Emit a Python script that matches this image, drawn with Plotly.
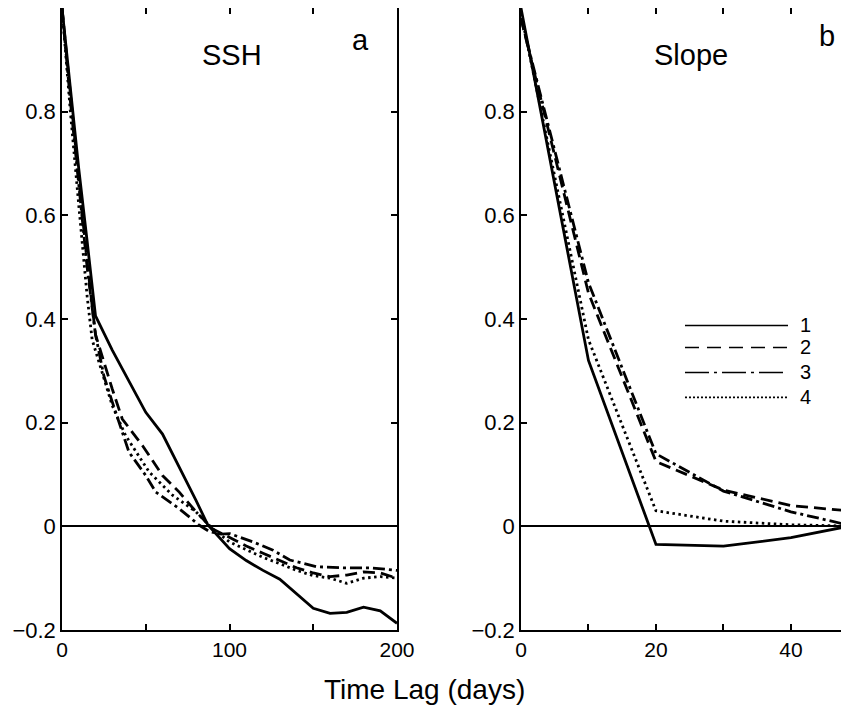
import plotly.graph_objects as go

# ---------------- data ----------------
series_names = ["1", "2", "3", "4"]

# Panel a: SSH autocorrelation vs time lag (days)
ssh_lag_1 = [0, 5, 10, 15, 20, 30, 40, 50, 60, 70, 80, 87, 100, 110, 120, 130, 140, 150, 160, 170, 180, 190, 200]
ssh_1 = [1.0, 0.84, 0.69, 0.55, 0.406, 0.34, 0.279, 0.22, 0.178, 0.115, 0.05, 0.003, -0.043, -0.066, -0.085, -0.102, -0.13, -0.158, -0.168, -0.166, -0.156, -0.163, -0.187]

ssh_lag_2 = [0, 5, 10, 15, 20, 30, 36, 48, 60, 70, 80, 90, 100, 110, 120, 130, 140, 150, 160, 170, 180, 190, 200]
ssh_2 = [1.0, 0.83, 0.67, 0.51, 0.37, 0.265, 0.207, 0.156, 0.098, 0.066, 0.028, -0.005, -0.022, -0.038, -0.052, -0.066, -0.08, -0.09, -0.097, -0.094, -0.088, -0.09, -0.1]

ssh_lag_3 = [0, 5, 10, 15, 20, 25, 30, 40, 50, 56, 70, 82, 88, 95, 100, 114, 126, 136, 152, 168, 184, 200]
ssh_3 = [1.0, 0.82, 0.66, 0.5, 0.37, 0.29, 0.24, 0.143, 0.098, 0.066, 0.034, 0.002, -0.01, -0.015, -0.014, -0.03, -0.046, -0.065, -0.078, -0.08, -0.08, -0.085]

ssh_lag_4 = [0, 5, 10, 15, 18, 24, 30, 38, 52, 66, 80, 90, 100, 110, 120, 130, 140, 150, 160, 170, 180, 190, 200]
ssh_4 = [1.0, 0.8, 0.62, 0.444, 0.36, 0.297, 0.233, 0.175, 0.105, 0.06, 0.028, -0.005, -0.03, -0.045, -0.06, -0.072, -0.085, -0.095, -0.1, -0.11, -0.1, -0.097, -0.1]

# Panel b: Slope autocorrelation vs time lag (days)
slope_lag = [0, 10, 20, 30, 40, 50]
slope_1 = [1.0, 0.32, -0.035, -0.038, -0.022, 0.004]
slope_2 = [0.98, 0.45, 0.125, 0.07, 0.04, 0.028]
slope_3 = [0.98, 0.47, 0.14, 0.068, 0.028, -0.002]
slope_4 = [0.99, 0.36, 0.03, 0.01, 0.003, 0.0]

y_ticks = [-0.2, 0, 0.2, 0.4, 0.6, 0.8]
y_tick_text = ["\u22120.2", "0", "0.2", "0.4", "0.6", "0.8"]
xa_ticks = [0, 100, 200]
xa_minor = [50, 150]
xb_ticks = [0, 20, 40]
xb_minor = [10, 30]

# ---------------- styles ----------------
FONT = "Liberation Sans, Arial, Helvetica, sans-serif"
LW = 2.8
dashes = ["solid", "12px,6px", "12px,4px,3px,4px", "2.5px,3.5px"]
leg_dashes = ["solid", "14px,8px", "24px,5px,3px,5px", "2px,2px"]

fig = go.Figure()

ssh_x = [ssh_lag_1, ssh_lag_2, ssh_lag_3, ssh_lag_4]
ssh_y = [ssh_1, ssh_2, ssh_3, ssh_4]
slope_y = [slope_1, slope_2, slope_3, slope_4]

for i in range(4):
    fig.add_trace(go.Scatter(x=ssh_x[i], y=ssh_y[i], mode="lines", name=series_names[i],
                             line=dict(color="black", width=LW, dash=dashes[i]),
                             xaxis="x", yaxis="y", showlegend=False))
for i in range(4):
    fig.add_trace(go.Scatter(x=slope_lag, y=slope_y[i], mode="lines", name=series_names[i],
                             line=dict(color="black", width=LW, dash=dashes[i]),
                             xaxis="x2", yaxis="y2", showlegend=False))

def axis_common(size):
    return dict(showline=True, linecolor="black", linewidth=1.5, ticks="inside",
                ticklen=6, tickwidth=1.5, tickcolor="black", showgrid=False,
                automargin=False,
                tickfont=dict(family=FONT, size=size, color="black"))

# the page adds an 8px body margin, so the figure is 8px smaller than the window
fig.update_layout(
    width=841, height=705,
    margin=dict(l=54, r=0, t=0, b=83, autoexpand=False),
    paper_bgcolor="white", plot_bgcolor="white",
    showlegend=False,
    xaxis=dict(domain=[0, 0.4257], range=[0, 200], tickvals=xa_ticks, mirror="ticks",
               zeroline=False,
               minor=dict(tickvals=xa_minor, ticks="inside", ticklen=6, tickwidth=1.5, tickcolor="black"),
               **axis_common(21)),
    yaxis=dict(domain=[0, 1], range=[-0.2, 1.0], tickvals=y_ticks, ticktext=y_tick_text,
               mirror="ticks", zeroline=True, zerolinecolor="black", zerolinewidth=1.5,
               anchor="x", **axis_common(22)),
    xaxis2=dict(domain=[0.5832, 1], range=[0, 48.6], tickvals=xb_ticks, mirror="ticks",
                zeroline=False, anchor="y2",
                minor=dict(tickvals=xb_minor, ticks="inside", ticklen=6, tickwidth=1.5, tickcolor="black"),
                **axis_common(21)),
    yaxis2=dict(domain=[0, 1], range=[-0.2, 1.0], tickvals=y_ticks, ticktext=y_tick_text,
                mirror=False, zeroline=True, zerolinecolor="black", zerolinewidth=1.5,
                anchor="x2", **axis_common(22)),
)

ann_font = dict(family=FONT, size=29, color="black")
annotations = [
    dict(text="SSH", x=0.216, y=0.924, xref="paper", yref="paper", showarrow=False,
         xanchor="center", yanchor="middle", font=ann_font),
    dict(text="a", x=0.3787, y=0.948, xref="paper", yref="paper", showarrow=False,
         xanchor="center", yanchor="middle", font=ann_font),
    dict(text="Slope", x=0.7992, y=0.924, xref="paper", yref="paper", showarrow=False,
         xanchor="center", yanchor="middle", font=ann_font),
    dict(text="b", x=0.972, y=0.955, xref="paper", yref="paper", showarrow=False,
         xanchor="center", yanchor="middle", font=ann_font),
    dict(text="Time Lag (days)", x=0.461, y=-0.096, xref="paper", yref="paper", showarrow=False,
         xanchor="center", yanchor="middle", font=dict(family=FONT, size=28, color="black")),
]

# legend (key lines with labels inside panel b)
leg_y = [0.4896, 0.4543, 0.4141, 0.374]
shapes = []
for i in range(4):
    shapes.append(dict(type="line", xref="paper", yref="paper", x0=0.7916, x1=0.9225,
                       y0=leg_y[i], y1=leg_y[i],
                       line=dict(color="black", width=1.6, dash=leg_dashes[i])))
    annotations.append(dict(text=series_names[i], x=0.935, y=leg_y[i], xref="paper", yref="paper",
                            showarrow=False, xanchor="left", yanchor="middle",
                            font=dict(family=FONT, size=20, color="black")))

fig.update_layout(annotations=annotations, shapes=shapes)

fig.write_html("out.html")
